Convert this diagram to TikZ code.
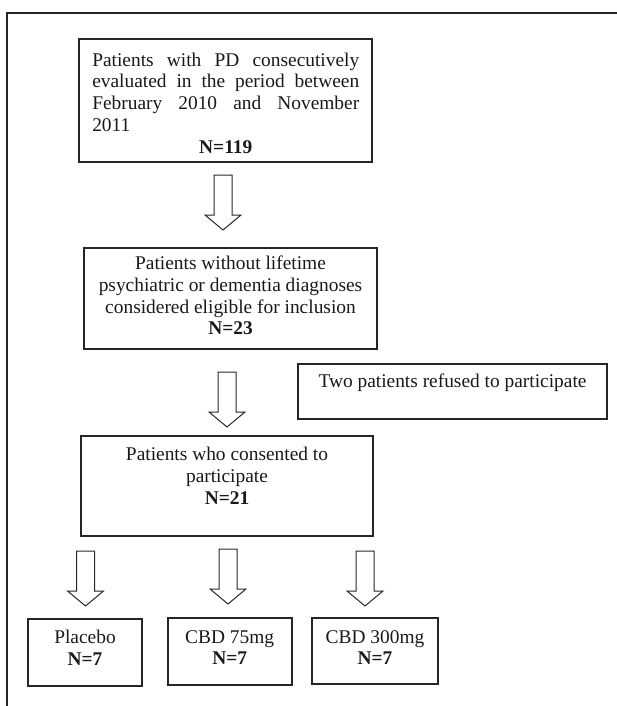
\documentclass[tikz,border=0pt]{standalone}
\usepackage{fontspec}
\setmainfont{Liberation Serif}

\begin{document}
\begin{tikzpicture}[x=1pt,y=-1pt,font=\fontsize{19.4}{21.8}\selectfont,
                    hollow arrow/.pic={\draw[arrowline] (-9,0) -- (-9,40) -- (-18,40)
                      -- (0,55) -- (18,40) -- (9,40) -- (9,0) -- cycle;}]
  \tikzstyle{box}=[draw=black!85,line width=1.4pt,inner sep=0pt]
  \tikzstyle{txt}=[inner sep=0pt,align=center,text=black!90]
  \tikzstyle{arrowline}=[draw=black!85,line width=1pt]

  \useasboundingbox (0,0) rectangle (617,706);
  \draw[draw=black!85,line width=1.2pt] (617,13) -- (7,13) -- (7,706);

  % boxes
  \node[box,minimum width=293pt,minimum height=123pt] (pd) at (225.5,100.5) {};
  \node[txt,text width=267pt,align=justify] (pdtext) at (225.75,103)
    {\tolerance=10000 Patients with PD consecutively\linebreak evaluated in the period between\linebreak
     February 2010 and November\linebreak 2011\par{\centering\textbf{N=119}\par}};

  \node[box,minimum width=293pt,minimum height=101pt] (eligible) at (230.5,298.5) {};
  \node[txt] (eligibletext) at (230.5,295.5)
    {Patients without lifetime\\psychiatric or dementia diagnoses\\considered eligible for inclusion\\\textbf{N=23}};

  \node[box,minimum width=309pt,minimum height=55pt] (refused) at (452.5,391.5) {};
  \node[txt] (refusedtext) at (452.5,383) {Two patients refused to participate};

  \node[box,minimum width=292pt,minimum height=100pt] (consent) at (227,486) {};
  \node[txt] (consenttext) at (227,476) {Patients who consented to\\participate\\\textbf{N=21}};

  \node[box,minimum width=114pt,minimum height=67pt] (placebo) at (85,652.5) {};
  \node[txt] (placebotext) at (85,647.5) {Placebo\\\textbf{N=7}};
  \node[box,minimum width=124pt,minimum height=67pt] (cbd75) at (230,651.5) {};
  \node[txt] (cbd75text) at (229.7,647.5) {CBD 75mg\\\textbf{N=7}};
  \node[box,minimum width=126pt,minimum height=66pt] (cbd300) at (375,651) {};
  \node[txt] (cbd300text) at (375,647.5) {CBD 300mg\\\textbf{N=7}};

  % block arrows
  \pic at (223,175) {hollow arrow};
  \pic at (227,372) {hollow arrow};
  \pic at (85.5,551) {hollow arrow};
  \pic at (228,549) {hollow arrow};
  \pic at (365,551) {hollow arrow};
\end{tikzpicture}
\end{document}
